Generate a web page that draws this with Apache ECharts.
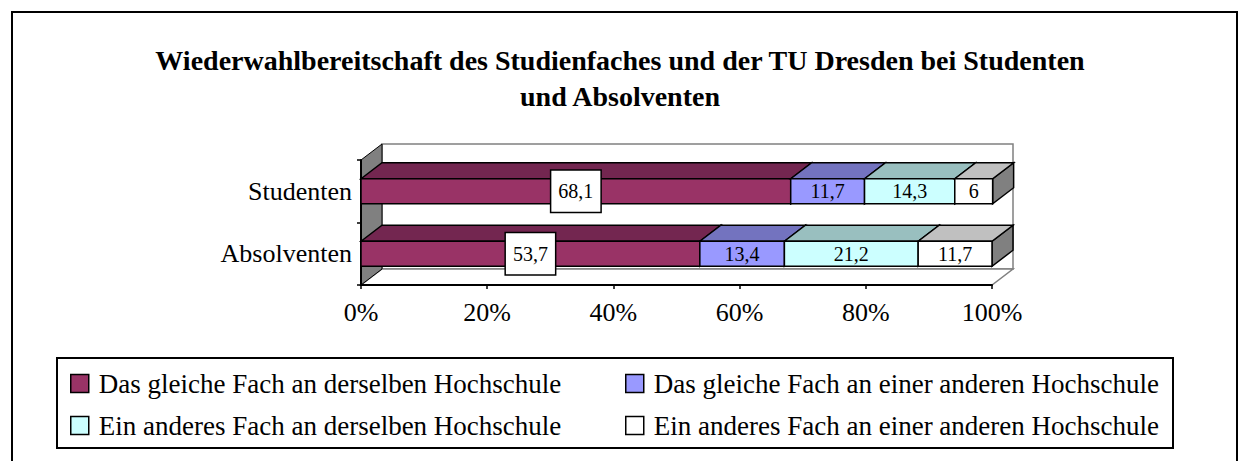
<!DOCTYPE html>
<html>
<head>
<meta charset="utf-8">
<script src="https://cdn.jsdelivr.net/npm/echarts@6/dist/echarts.min.js"></script>
<style>
  html, body { margin: 0; padding: 0; background: #fff; }
  #chart { width: 1240px; height: 461px; }
</style>
</head>
<body>
<div id="chart"></div>
<script>
  // Daten
  const categories = ['Studenten', 'Absolventen'];
  const seriesNames = [
    'Das gleiche Fach an derselben Hochschule',
    'Das gleiche Fach an einer anderen Hochschule',
    'Ein anderes Fach an derselben Hochschule',
    'Ein anderes Fach an einer anderen Hochschule'
  ];
  const gleichesFachGleicheHS = [68.1, 53.7];
  const gleichesFachAndereHS = [11.7, 13.4];
  const anderesFachGleicheHS = [14.3, 21.2];
  const anderesFachAndereHS = [6, 11.7];
  const xTicks = [0, 20, 40, 60, 80, 100];

  const values = [gleichesFachGleicheHS, gleichesFachAndereHS, anderesFachGleicheHS, anderesFachAndereHS];
  // Farben: Vorderseite, Oberseite, Seite
  const faces = [
    ['#993366', '#732650', '#4d1a33'],
    ['#9999ff', '#7373bf', '#4d4d80'],
    ['#ccffff', '#99bfbf', '#668080'],
    ['#ffffff', '#c0c0c0', '#808080']
  ];

  const FONT = "'Times New Roman', 'Liberation Serif', serif";
  const DX = 21, DY = 16;

  const chart = echarts.init(document.getElementById('chart'), null, { renderer: 'svg' });

  function renderSegment(front, top, side, boxed) {
    return function (params, api) {
      const cat = api.value(1);
      const a = api.coord([api.value(2), cat]);
      const b = api.coord([api.value(0), cat]);
      const h = api.size([0, 1])[1] * 0.4;
      const x0 = a[0], x1 = b[0];
      const yT = a[1] - h / 2, yB = a[1] + h / 2;
      const label = String(api.value(3)).replace('.', ',');
      const textStyle = { text: label, fontFamily: FONT, fontSize: 20, fill: '#000' };
      if (boxed) {
        Object.assign(textStyle, { backgroundColor: '#fff', borderColor: '#000', borderWidth: 1.5, padding: [11, 7, 10, 7] });
      }
      return {
        type: 'group',
        children: [
          {
            type: 'polygon',
            shape: { points: [[x1, yT], [x1 + DX, yT - DY], [x1 + DX, yB - DY], [x1, yB]] },
            style: { fill: side, stroke: '#000', lineWidth: 1.5 }
          },
          {
            type: 'polygon',
            shape: { points: [[x0, yT], [x0 + DX, yT - DY], [x1 + DX, yT - DY], [x1, yT]] },
            style: { fill: top, stroke: '#000', lineWidth: 1.5 }
          },
          {
            type: 'rect',
            shape: { x: x0, y: yT, width: x1 - x0, height: h },
            style: { fill: front, stroke: '#000', lineWidth: 1.5 },
            textContent: { style: textStyle },
            textConfig: { position: 'inside' }
          }
        ]
      };
    };
  }

  // Rückwand, linke Wand, Boden
  function renderFrame(params) {
    const c = params.coordSys;
    const x = c.x, y = c.y, w = c.width, h = c.height;
    return {
      type: 'group',
      children: [
        {
          type: 'rect',
          shape: { x: x + DX, y: y - DY, width: w, height: h },
          style: { fill: '#fff', stroke: '#808080', lineWidth: 1.5 }
        },
        {
          type: 'polygon',
          shape: { points: [[x, y + h], [x + DX, y + h - DY], [x + w + DX, y + h - DY], [x + w, y + h]] },
          style: { fill: '#fff', stroke: '#808080', lineWidth: 1.5 }
        },
        {
          type: 'polygon',
          shape: { points: [[x, y], [x + DX, y - DY], [x + DX, y + h - DY], [x, y + h]] },
          style: { fill: '#808080', stroke: '#000', lineWidth: 1 }
        }
      ]
    };
  }

  const series = [{
    type: 'custom',
    name: 'frame',
    silent: true,
    z: 1,
    data: [[0, 0]],
    encode: { x: 0, y: 1 },
    renderItem: renderFrame
  }];

  const starts = categories.map(() => 0);
  values.forEach(function (arr, i) {
    const data = arr.map(function (v, c) {
      const s = starts[c];
      starts[c] = s + v;
      return [s + v, c, s, v];
    });
    series.push({
      type: 'custom',
      name: seriesNames[i],
      z: 4,
      itemStyle: { color: faces[i][0] },
      data: data,
      encode: { x: 0, y: 1 },
      renderItem: renderSegment(faces[i][0], faces[i][1], faces[i][2], i === 0)
    });
  });

  const legendText = { fontFamily: FONT, fontSize: 27, color: '#000', padding: [0, 0, 0, 5] };

  chart.setOption({
    animation: false,
    title: {
      text: 'Wiederwahlbereitschaft des Studienfaches und der TU Dresden bei Studenten\nund Absolventen',
      left: 'center',
      top: 37,
      textStyle: { fontFamily: FONT, fontSize: 28, fontWeight: 'bold', color: '#000', lineHeight: 36 }
    },
    grid: { left: 361, right: 248, top: 160, bottom: 176 },
    xAxis: {
      type: 'value',
      min: 0,
      max: 100,
      interval: 20,
      z: 3,
      axisLine: { show: true, lineStyle: { color: '#000', width: 2 } },
      axisTick: { show: true, length: 4, lineStyle: { color: '#000', width: 1.5 } },
      splitLine: { show: false },
      axisLabel: {
        margin: 14,
        fontFamily: FONT, fontSize: 26, color: '#000',
        formatter: function (v) { return xTicks.indexOf(v) >= 0 ? v + '%' : ''; }
      }
    },
    yAxis: {
      type: 'category',
      data: categories,
      inverse: true,
      z: 3,
      axisLine: { show: true, lineStyle: { color: '#000', width: 2 } },
      axisTick: { show: true, length: 4, lineStyle: { color: '#000', width: 1.5 } },
      axisLabel: { margin: 9, fontFamily: FONT, fontSize: 26, color: '#000' }
    },
    legend: [
      {
        orient: 'vertical', left: 65, top: 365, itemGap: 15,
        icon: 'rect', itemWidth: 18, itemHeight: 18,
        itemStyle: { borderColor: '#000', borderWidth: 1.5 },
        textStyle: legendText,
        selectedMode: false,
        data: [seriesNames[0], seriesNames[2]]
      },
      {
        orient: 'vertical', left: 620, top: 365, itemGap: 15,
        icon: 'rect', itemWidth: 18, itemHeight: 18,
        itemStyle: { borderColor: '#000', borderWidth: 1.5 },
        textStyle: legendText,
        selectedMode: false,
        data: [seriesNames[1], seriesNames[3]]
      }
    ],
    graphic: [
      {
        type: 'rect', z: -10, silent: true,
        shape: { x: 12, y: 12, width: 1225, height: 470 },
        style: { fill: 'none', stroke: '#000', lineWidth: 2 }
      },
      {
        type: 'rect', z: -10, silent: true,
        shape: { x: 57, y: 358, width: 1116, height: 90 },
        style: { fill: 'none', stroke: '#000', lineWidth: 2 }
      }
    ],
    series: series
  });
</script>
</body>
</html>
